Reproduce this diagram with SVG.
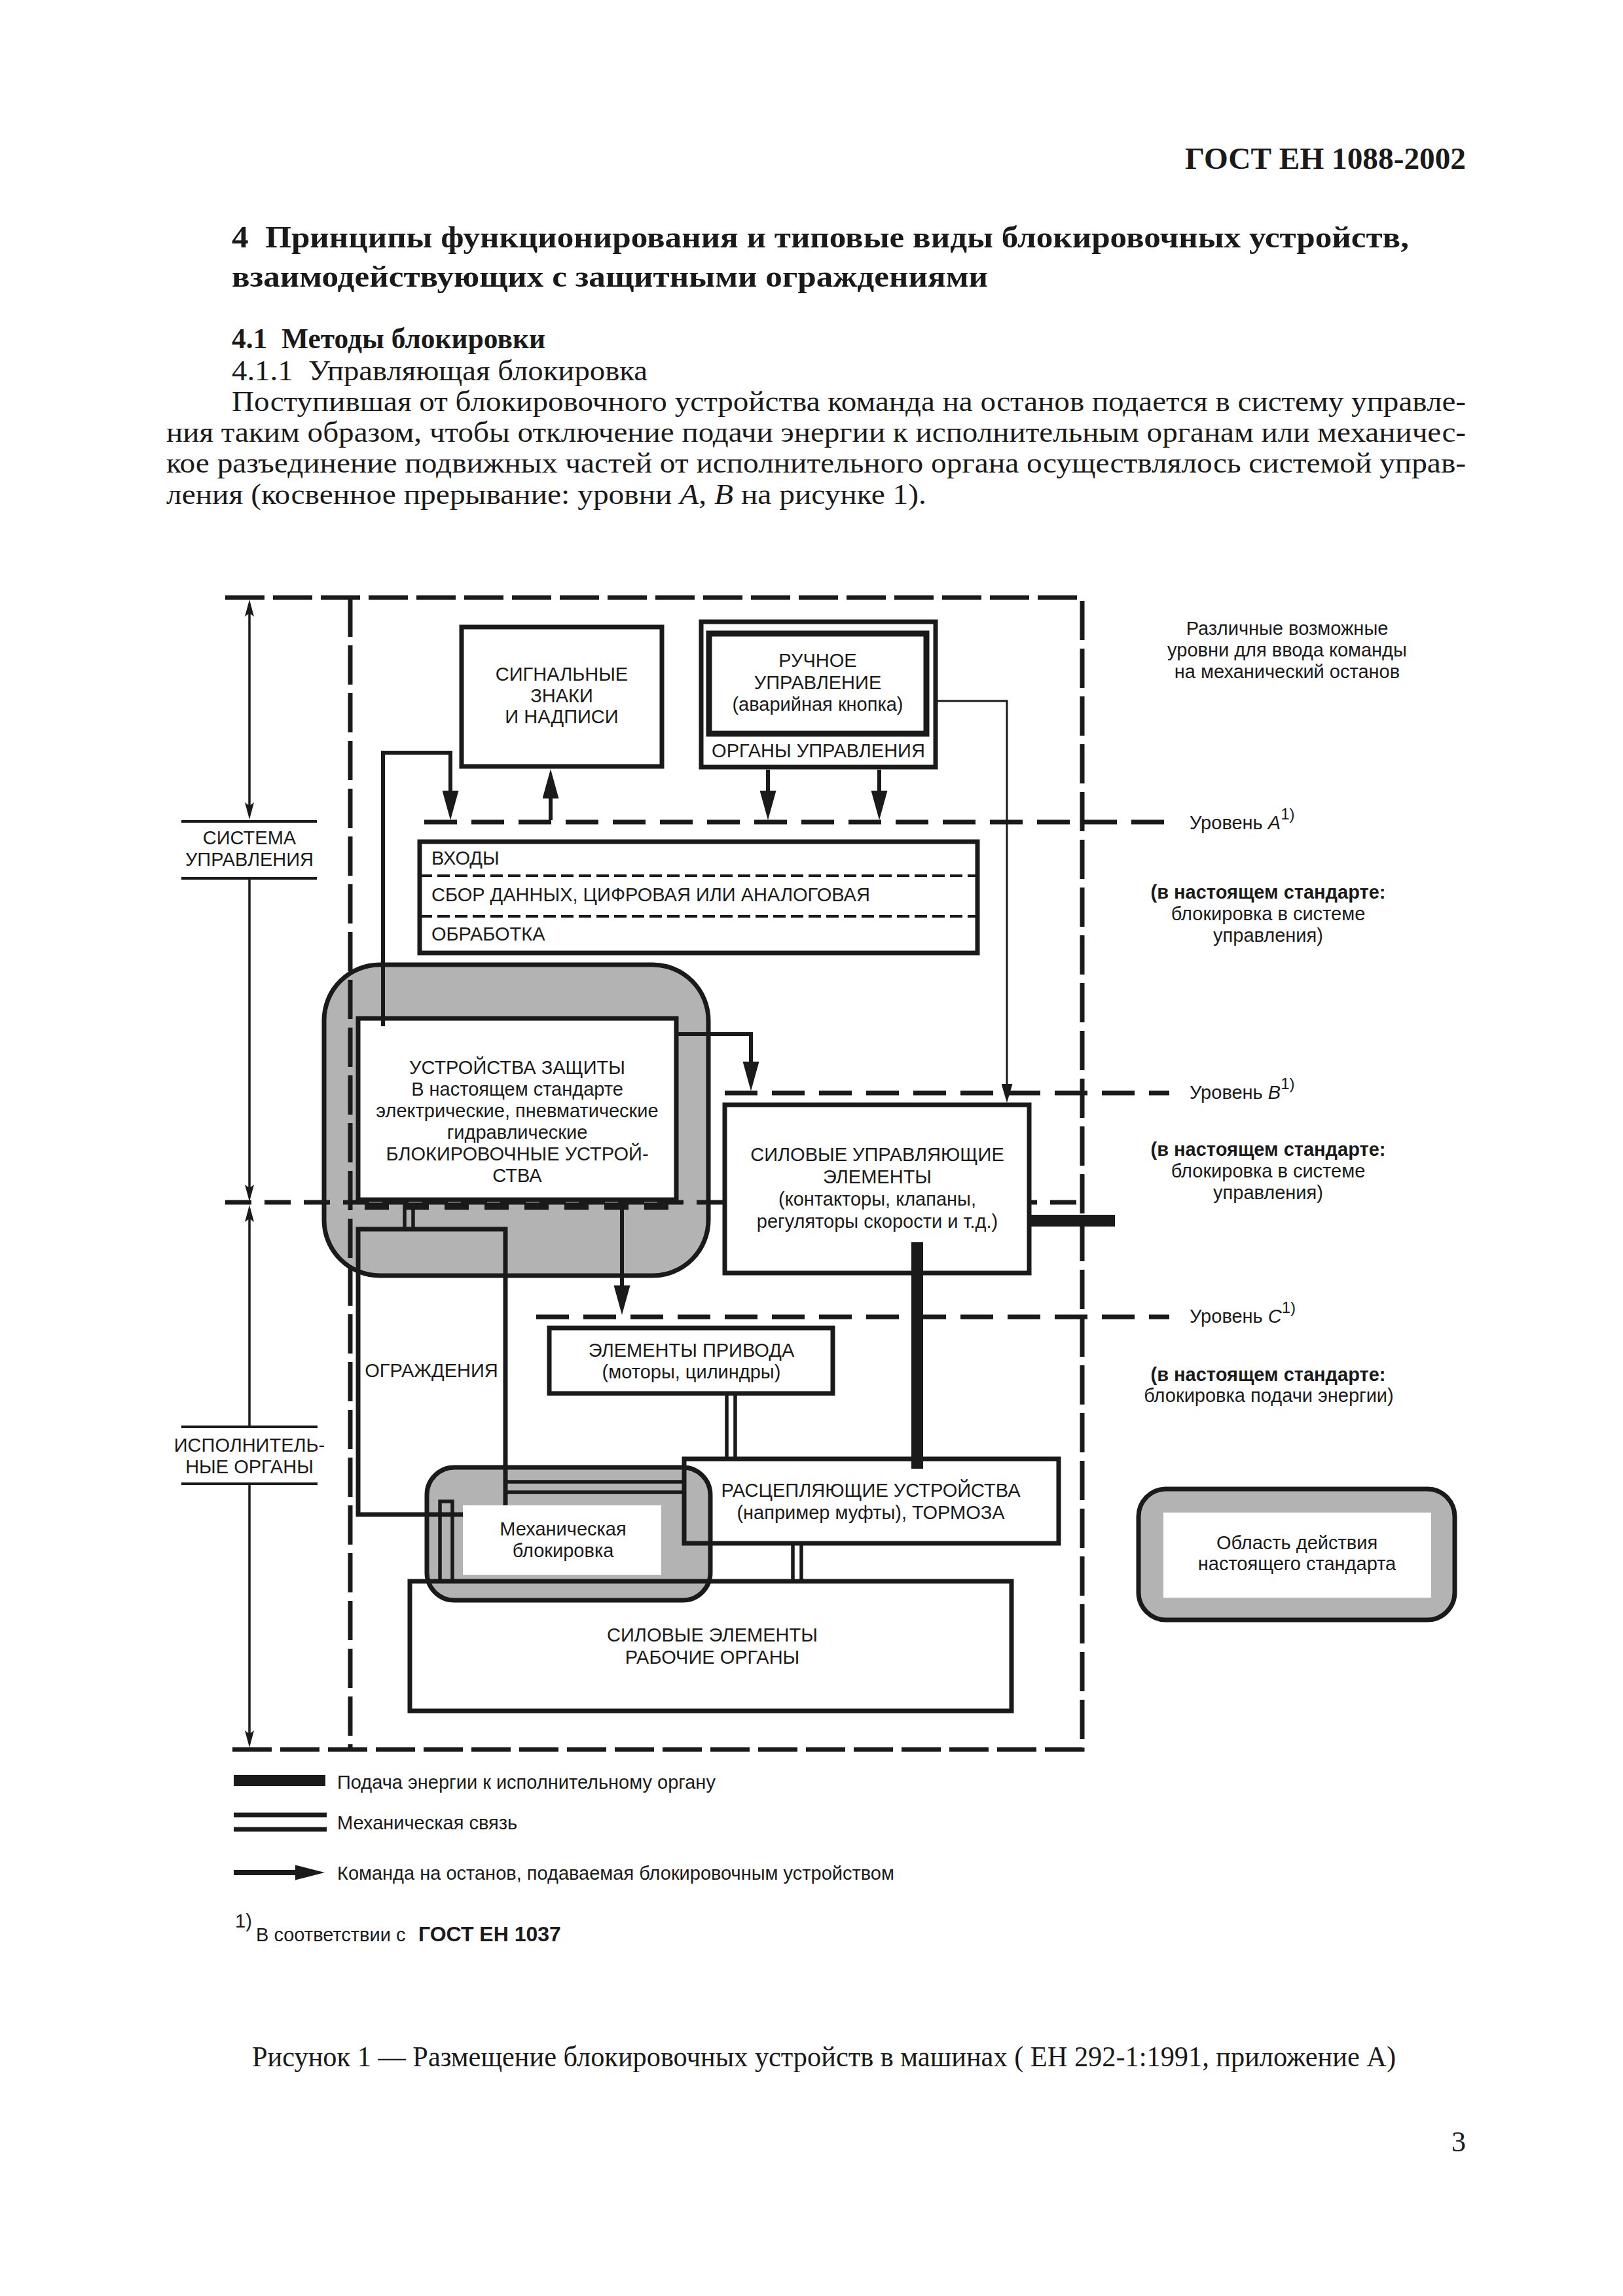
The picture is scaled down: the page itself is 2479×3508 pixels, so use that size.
<svg xmlns="http://www.w3.org/2000/svg" width="2479" height="3508" viewBox="0 0 2479 3508">
<defs>
<style>
.serif{font-family:"Liberation Serif","Times New Roman",serif;fill:#1a1a1a}
.t{font-family:"Liberation Sans",Arial,sans-serif;font-size:29px;fill:#1a1a1a}
.c{text-anchor:middle}
.b{font-weight:bold}
.box{fill:#fff;stroke:#1a1a1a;stroke-width:7}
.ol{fill:none;stroke:#1a1a1a;stroke-width:7}
.grey{fill:#b3b3b3;stroke:#1a1a1a;stroke-width:7}
.bnd{fill:none;stroke:#1a1a1a;stroke-width:7;stroke-dasharray:60 13}
.lvl{fill:none;stroke:#1a1a1a;stroke-width:7;stroke-dasharray:50 22}
.cmd{fill:none;stroke:#1a1a1a;stroke-width:6}
.thin{fill:none;stroke:#1a1a1a;stroke-width:3}
.dim{fill:none;stroke:#1a1a1a;stroke-width:3.5}
.mech{fill:none;stroke:#1a1a1a;stroke-width:5.5}
.pow{fill:none;stroke:#1a1a1a;stroke-width:18}
.lab{fill:none;stroke:#1a1a1a;stroke-width:4}
.sup{font-size:24px}
</style>
<marker id="ah" viewBox="0 0 45 25" markerWidth="45" markerHeight="25" refX="25" refY="12.5" orient="auto" markerUnits="userSpaceOnUse"><path d="M0,0 L45,12.5 L0,25 z" fill="#1a1a1a"/></marker>
<marker id="aht" viewBox="0 0 29 17" markerWidth="29" markerHeight="17" refX="19" refY="8.5" orient="auto" markerUnits="userSpaceOnUse"><path d="M0,0 L29,8.5 L0,17 z" fill="#1a1a1a"/></marker>
<marker id="ahd" viewBox="0 0 26 14" markerWidth="26" markerHeight="14" refX="16" refY="7" orient="auto-start-reverse" markerUnits="userSpaceOnUse"><path d="M0,0 L26,7 L0,14 L5,7 z" fill="#1a1a1a"/></marker>
</defs>
<rect width="2479" height="3508" fill="#fff"/>

<g id="page-text" class="serif">
<text x="2239" y="258" text-anchor="end" font-size="47" font-weight="bold" textLength="429" lengthAdjust="spacingAndGlyphs">ГОСТ ЕН 1088-2002</text>
<text x="354" y="378" font-size="47" font-weight="bold" xml:space="preserve" textLength="1798" lengthAdjust="spacingAndGlyphs">4  Принципы функционирования и типовые виды блокировочных устройств,</text>
<text x="354" y="438" font-size="47" font-weight="bold" textLength="1155" lengthAdjust="spacingAndGlyphs">взаимодействующих с защитными ограждениями</text>
<text x="354" y="532" font-size="44" font-weight="bold" xml:space="preserve" textLength="479" lengthAdjust="spacingAndGlyphs">4.1  Методы блокировки</text>
<text x="354" y="581" font-size="45" xml:space="preserve" textLength="635" lengthAdjust="spacingAndGlyphs">4.1.1  Управляющая блокировка</text>
<text x="354" y="628" font-size="45" textLength="1885" lengthAdjust="spacingAndGlyphs">Поступившая от блокировочного устройства команда на останов подается в систему управле-</text>
<text x="254" y="675" font-size="45" textLength="1985" lengthAdjust="spacingAndGlyphs">ния таким образом, чтобы отключение подачи энергии к исполнительным органам или механичес-</text>
<text x="254" y="722" font-size="45" textLength="1985" lengthAdjust="spacingAndGlyphs">кое разъединение подвижных частей от исполнительного органа осуществлялось системой управ-</text>
<text x="254" y="770" font-size="45" textLength="1161" lengthAdjust="spacingAndGlyphs">ления (косвенное прерывание: уровни <tspan font-style="italic">А</tspan>, <tspan font-style="italic">В</tspan> на рисунке 1).</text>
<text x="385" y="3157" font-size="44" textLength="1747" lengthAdjust="spacingAndGlyphs">Рисунок 1 — Размещение блокировочных устройств в машинах ( ЕН 292-1:1991, приложение А)</text>
<text x="2239" y="3287" font-size="44" text-anchor="end">3</text>
</g>

<g id="scope-areas">
<rect id="grey-protect" class="grey" x="495" y="1474" width="587" height="475" rx="85" ry="85"/>
<rect id="grey-mech" class="grey" x="652" y="2242" width="433" height="203" rx="42" ry="42"/>
</g>

<g id="frame-and-levels">
<path class="bnd" d="M344,913 H1653 V2673 H345"/>
<path class="bnd" d="M535,913 V2673"/>
<path class="lvl" d="M648,1256 H1786"/>
<path class="lvl" d="M1107,1670 H1786"/>
<path class="lvl" d="M819,2012 H1786"/>
<path class="lvl" d="M344,1837 H1651" style="stroke-dasharray:40 20"/>
<path d="M557,1843 H1022" fill="none" stroke="#1a1a1a" stroke-width="11" stroke-dasharray="37 24"/>
<path class="lab" d="M277,1255 H484 M277,1342 H484 M277,2180 H485 M277,2267 H485"/>
<path class="dim" d="M381,926 V1242" marker-start="url(#ahd)" marker-end="url(#ahd)"/>
<path class="dim" d="M381,1342 V1826" marker-end="url(#ahd)"/>
<path class="dim" d="M381,2180 V1851" marker-end="url(#ahd)"/>
<path class="dim" d="M381,2267 V2660" marker-end="url(#ahd)"/>
</g>

<g id="node-signal">
<rect class="box" x="705" y="958" width="306" height="213"/>
<text class="t c" x="858" y="1040">СИГНАЛЬНЫЕ</text>
<text class="t c" x="858" y="1073">ЗНАКИ</text>
<text class="t c" x="858" y="1105">И НАДПИСИ</text>
</g>

<g id="node-manual">
<rect class="box" x="1071" y="950" width="358" height="222"/>
<rect x="1083" y="968" width="332" height="153" fill="none" stroke="#1a1a1a" stroke-width="9"/>
<text class="t c" x="1249" y="1019">РУЧНОЕ</text>
<text class="t c" x="1249" y="1053">УПРАВЛЕНИЕ</text>
<text class="t c" x="1249" y="1086">(аварийная кнопка)</text>
<text class="t c" x="1250" y="1157">ОРГАНЫ УПРАВЛЕНИЯ</text>
</g>

<g id="node-inputs">
<rect class="box" x="641" y="1286" width="852" height="170"/>
<path d="M641,1338 H1493 M641,1400 H1493" fill="none" stroke="#1a1a1a" stroke-width="4" stroke-dasharray="19 8"/>
<text class="t" x="659" y="1321">ВХОДЫ</text>
<text class="t" x="659" y="1377">СБОР ДАННЫХ, ЦИФРОВАЯ ИЛИ АНАЛОГОВАЯ</text>
<text class="t" x="659" y="1437">ОБРАБОТКА</text>
</g>

<g id="node-protect">
<rect class="box" x="547" y="1556" width="486" height="277"/>
<text class="t c" x="790" y="1641">УСТРОЙСТВА ЗАЩИТЫ</text>
<text class="t c" x="790" y="1674">В настоящем стандарте</text>
<text class="t c" x="790" y="1707">электрические, пневматические</text>
<text class="t c" x="790" y="1740">гидравлические</text>
<text class="t c" x="790" y="1773">БЛОКИРОВОЧНЫЕ УСТРОЙ-</text>
<text class="t c" x="790" y="1806">СТВА</text>
</g>

<g id="node-power-control">
<rect class="box" x="1107" y="1688" width="465" height="257"/>
<text class="t c" x="1340" y="1774">СИЛОВЫЕ УПРАВЛЯЮЩИЕ</text>
<text class="t c" x="1340" y="1808">ЭЛЕМЕНТЫ</text>
<text class="t c" x="1340" y="1842">(контакторы, клапаны,</text>
<text class="t c" x="1340" y="1876">регуляторы скорости и т.д.)</text>
</g>

<g id="node-drive">
<rect class="box" x="839" y="2029" width="433" height="100"/>
<text class="t c" x="1056" y="2073">ЭЛЕМЕНТЫ ПРИВОДА</text>
<text class="t c" x="1056" y="2106">(моторы, цилиндры)</text>
</g>

<g id="node-guards">
<rect class="ol" x="547" y="1878" width="225" height="436"/>
<text class="t c" x="659" y="2104">ОГРАЖДЕНИЯ</text>
</g>

<g id="node-mech-interlock">
<rect x="707" y="2300" width="303" height="106" fill="#fff"/>
<text class="t c" x="860" y="2346">Механическая</text>
<text class="t c" x="860" y="2379">блокировка</text>
</g>

<g id="node-disconnect">
<rect class="ol" x="1045" y="2229" width="572" height="129"/>
<text class="t c" x="1330" y="2287">РАСЦЕПЛЯЮЩИЕ УСТРОЙСТВА</text>
<text class="t c" x="1330" y="2321">(например муфты), ТОРМОЗА</text>
</g>

<g id="node-actuators">
<rect class="ol" x="626" y="2416" width="919" height="198"/>
<text class="t c" x="1088" y="2508">СИЛОВЫЕ ЭЛЕМЕНТЫ</text>
<text class="t c" x="1088" y="2542">РАБОЧИЕ ОРГАНЫ</text>
</g>

<g id="connectors">
<path class="cmd" d="M585,1568 V1150 H688 V1233" marker-end="url(#ah)"/>
<path class="cmd" d="M841,1253 V1195" marker-end="url(#ah)"/>
<path class="cmd" d="M1173,1176 V1233" marker-end="url(#ah)"/>
<path class="cmd" d="M1343,1176 V1233" marker-end="url(#ah)"/>
<path class="cmd" d="M1036,1580 H1147 V1647" marker-end="url(#ah)"/>
<path class="cmd" d="M950,1837 V1989" marker-end="url(#ah)"/>
<path class="thin" d="M1429,1071 H1538 V1675" marker-end="url(#aht)"/>
<path class="mech" d="M618,1838 V1878 M631,1838 V1878"/>
<path class="mech" d="M1110,2130 V2229 M1123,2130 V2229"/>
<path class="mech" d="M1211,2358 V2416 M1224,2358 V2416"/>
<path class="mech" d="M772,2264 H1045 M772,2280 H1045"/>
<path class="mech" d="M672,2416 V2294 H691 V2416"/>
<path class="pow" d="M1572,1865 H1703"/>
<path class="pow" d="M1401,1898 V2244"/>
</g>

<g id="level-labels">
<text class="t" x="1817" y="1267">Уровень <tspan font-style="italic">A</tspan><tspan class="sup" dy="-15">1)</tspan></text>
<text class="t" x="1817" y="1679">Уровень <tspan font-style="italic">B</tspan><tspan class="sup" dy="-15">1)</tspan></text>
<text class="t" x="1817" y="2021">Уровень <tspan font-style="italic">C</tspan><tspan class="sup" dy="-15">1)</tspan></text>
<text class="t c" x="1966" y="970">Различные возможные</text>
<text class="t c" x="1966" y="1003">уровни для ввода команды</text>
<text class="t c" x="1966" y="1036">на механический останов</text>
<text class="t c b" x="1937" y="1373">(в настоящем стандарте:</text>
<text class="t c" x="1937" y="1406">блокировка в системе</text>
<text class="t c" x="1937" y="1439">управления)</text>
<text class="t c b" x="1937" y="1766">(в настоящем стандарте:</text>
<text class="t c" x="1937" y="1799">блокировка в системе</text>
<text class="t c" x="1937" y="1832">управления)</text>
<text class="t c b" x="1937" y="2110">(в настоящем стандарте:</text>
<text class="t c" x="1938" y="2142">блокировка подачи энергии)</text>
<text class="t c" x="381" y="1290">СИСТЕМА</text>
<text class="t c" x="381" y="1323">УПРАВЛЕНИЯ</text>
<text class="t c" x="381" y="2218">ИСПОЛНИТЕЛЬ-</text>
<text class="t c" x="381" y="2251">НЫЕ ОРГАНЫ</text>
</g>

<g id="legend">
<g id="legend-scope">
<rect class="grey" x="1739" y="2275" width="483" height="200" rx="42" ry="42"/>
<rect x="1777" y="2311" width="409" height="130" fill="#fff"/>
<text class="t c" x="1981" y="2367">Область действия</text>
<text class="t c" x="1981" y="2399">настоящего стандарта</text>
</g>
<rect x="357" y="2712" width="140" height="17" fill="#1a1a1a"/>
<text class="t" x="515" y="2733">Подача энергии к исполнительному органу</text>
<path class="mech" d="M357,2773 H499 M357,2795 H499" style="stroke-width:7"/>
<text class="t" x="515" y="2795">Механическая связь</text>
<path d="M357,2861 H455" fill="none" stroke="#1a1a1a" stroke-width="8"/>
<path d="M451,2849.5 L496,2861 L451,2872.5 z" fill="#1a1a1a"/>
<text class="t" x="515" y="2872">Команда на останов, подаваемая блокировочным устройством</text>
<text class="t" x="359" y="2945" font-size="26">1)</text>
<text class="t" x="391" y="2966">В соответствии с <tspan font-weight="bold" font-size="32" x="639">ГОСТ ЕН 1037</tspan></text>
</g>
</svg>
